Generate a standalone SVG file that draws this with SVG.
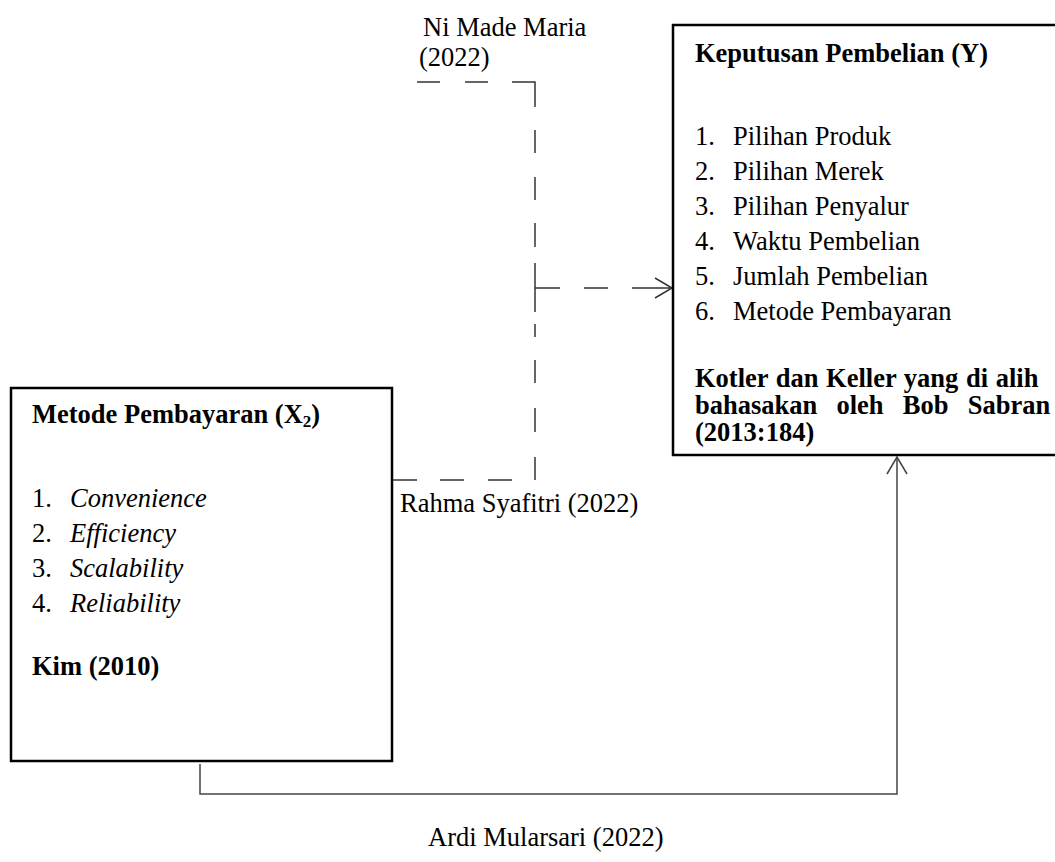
<svg xmlns="http://www.w3.org/2000/svg" width="1055" height="862" viewBox="0 0 1055 862">
<style>
text{font-family:"Liberation Serif","Times New Roman",serif;font-size:26.5px;fill:#000}
.b{font-weight:bold}
.i{font-style:italic}
.box{fill:#fff;stroke:#000;stroke-width:2.5}
.dash{fill:none;stroke:#333;stroke-width:1.5}
.solid{fill:none;stroke:#444;stroke-width:1.5}
</style>
<rect width="1055" height="862" fill="#fff"/>
<g id="connectors">
  <g id="dashed-ni-made-maria">
    <line class="dash" x1="417" y1="82" x2="440" y2="82"/>
    <line class="dash" x1="465" y1="82" x2="488" y2="82"/>
    <path class="dash" d="M512,82 H535 V107"/>
    <line class="dash" x1="535" y1="130" x2="535" y2="153"/>
    <line class="dash" x1="535" y1="177" x2="535" y2="200"/>
    <line class="dash" x1="535" y1="223" x2="535" y2="247"/>
    <line class="dash" x1="535" y1="263" x2="535" y2="312"/>
    <line class="dash" x1="535" y1="324" x2="535" y2="337"/>
    <line class="dash" x1="535" y1="360" x2="535" y2="383"/>
    <line class="dash" x1="535" y1="408" x2="535" y2="432"/>
    <line class="dash" x1="535" y1="457" x2="535" y2="480"/>
    <line class="dash" x1="392" y1="480" x2="417" y2="480"/>
    <line class="dash" x1="440" y1="480" x2="464" y2="480"/>
    <line class="dash" x1="488" y1="480" x2="512" y2="480"/>
    <line class="dash" x1="535" y1="288" x2="560" y2="288"/>
    <line class="dash" x1="584" y1="288" x2="608" y2="288"/>
    <line class="dash" x1="632" y1="288" x2="672" y2="288"/>
    <path class="dash" d="M655,278 L672,288 L655,298"/>
  </g>
  <g id="solid-ardi">
    <path class="solid" d="M200,764 V794 H897 V457"/>
    <path class="solid" d="M887,474 L897,457 L907,474"/>
  </g>
</g>
<g id="node-y">
  <rect class="box" x="673" y="25" width="400" height="430"/>
  <text class="b" x="695" y="62">Keputusan Pembelian (Y)</text>
  <text x="695" y="145">1.</text><text x="733" y="145">Pilihan Produk</text>
  <text x="695" y="180">2.</text><text x="733" y="180">Pilihan Merek</text>
  <text x="695" y="215">3.</text><text x="733" y="215">Pilihan Penyalur</text>
  <text x="695" y="250">4.</text><text x="733" y="250">Waktu Pembelian</text>
  <text x="695" y="285">5.</text><text x="733" y="285">Jumlah Pembelian</text>
  <text x="695" y="320">6.</text><text x="733" y="320">Metode Pembayaran</text>
  <text class="b" x="695" y="387" word-spacing="1">Kotler dan Keller yang di alih</text>
  <text class="b" x="695" y="414" word-spacing="12.6">bahasakan oleh Bob Sabran</text>
  <text class="b" x="695" y="441">(2013:184)</text>
</g>
<g id="node-x2">
  <rect class="box" x="11" y="388" width="381" height="373"/>
  <text class="b" x="32" y="423">Metode Pembayaran (X<tspan font-size="17" dy="4">2</tspan><tspan dy="-4">)</tspan></text>
  <text x="32" y="507">1.</text><text class="i" x="70" y="507">Convenience</text>
  <text x="32" y="542">2.</text><text class="i" x="70" y="542">Efficiency</text>
  <text x="32" y="577">3.</text><text class="i" x="70" y="577">Scalability</text>
  <text x="32" y="612">4.</text><text class="i" x="70" y="612">Reliability</text>
  <text class="b" x="32" y="675">Kim (2010)</text>
</g>
<g id="labels">
  <text x="423" y="36">Ni Made Maria</text>
  <text x="419" y="66">(2022)</text>
  <text x="400" y="512">Rahma Syafitri (2022)</text>
  <text x="428" y="846">Ardi Mularsari (2022)</text>
</g>
</svg>
